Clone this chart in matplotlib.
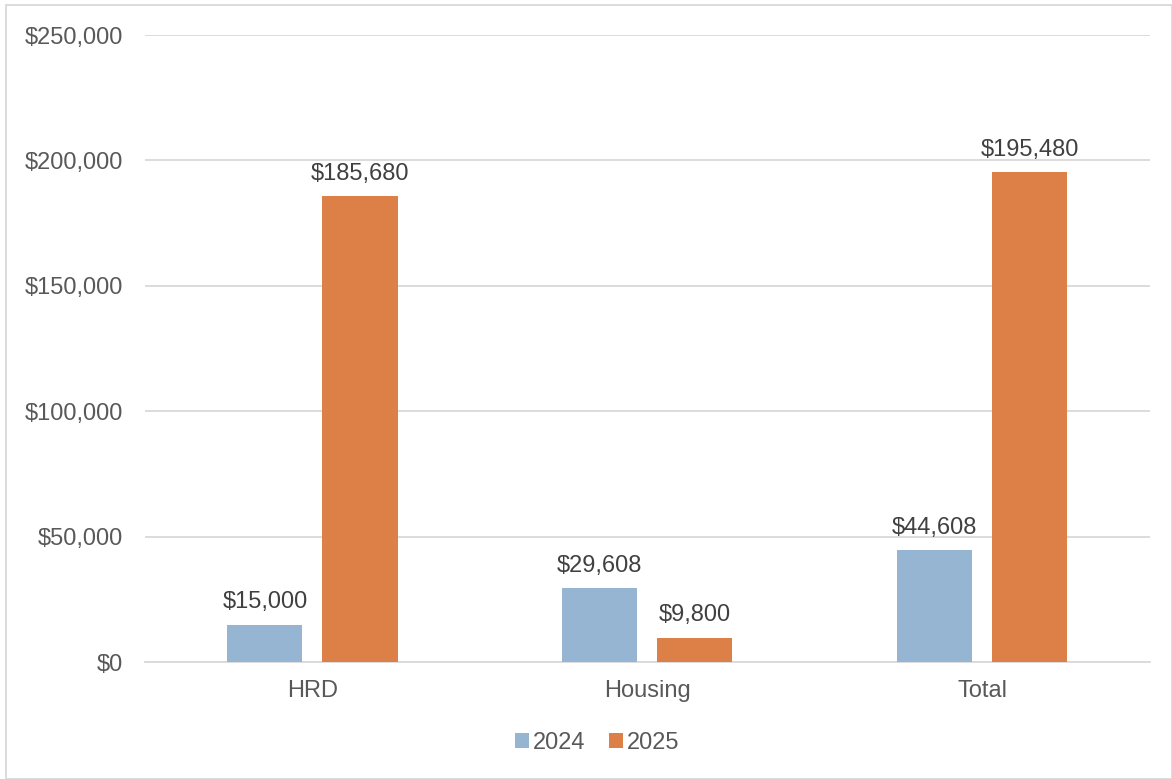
import matplotlib.pyplot as plt
import numpy as np

categories = ["HRD", "Housing", "Total"]
series_names = ["2024", "2025"]
values_2024 = [15000, 29608, 44608]
values_2025 = [185680, 9800, 195480]
y_ticks = [0, 50000, 100000, 150000, 200000, 250000]

colors = ["#95B5D3", "#DD8047"]
plt.rcParams['font.family'] = ['Liberation Sans', 'DejaVu Sans']

fig = plt.figure(figsize=(11.72, 7.79), dpi=100)
ax = fig.add_axes([0.1237, 0.150, 0.8573, 0.805])

x = np.arange(len(categories))
w = 0.224
gap = 0.06
off = (w + gap) / 2
for vals, name, c, sign in [(values_2024, series_names[0], colors[0], -1),
                            (values_2025, series_names[1], colors[1], 1)]:
    bars = ax.bar(x + sign * off, vals, width=w, color=c, label=name, zorder=3)
    for b, v in zip(bars, vals):
        ax.text(b.get_x() + b.get_width() / 2, v + 4500, f"${v:,}",
                ha="center", va="bottom", fontsize=17, color="#404040")

ax.set_xlim(-0.5, 2.5)
ax.set_ylim(0, 250000)
ax.set_yticks(y_ticks)
ax.set_yticklabels([f"${v:,}" for v in y_ticks])
ax.set_xticks(x)
ax.set_xticklabels(categories)
ax.tick_params(axis="both", length=0, labelsize=17, labelcolor="#595959")
ax.tick_params(axis="y", pad=16)
ax.tick_params(axis="x", pad=13)
ax.yaxis.grid(True, color="#D9D9D9", linewidth=1.3, zorder=0)
for s in ["top", "right", "left"]:
    ax.spines[s].set_visible(False)
ax.spines["bottom"].set_color("#D9D9D9")
ax.spines["bottom"].set_linewidth(1.3)

ax.legend(loc="center", bbox_to_anchor=(597 / 1172, (779 - 743) / 779), bbox_transform=fig.transFigure,
          ncol=2, frameon=False, fontsize=17, labelcolor="#595959",
          handlelength=0.6, handleheight=0.6, handletextpad=0.15, columnspacing=1.0)

fig.patches.append(plt.Rectangle((0.005, 0.0), 0.995, 0.994, transform=fig.transFigure,
                                 fill=False, edgecolor="#D9D9D9", linewidth=1.3))

fig.savefig("out.png", dpi=100)
